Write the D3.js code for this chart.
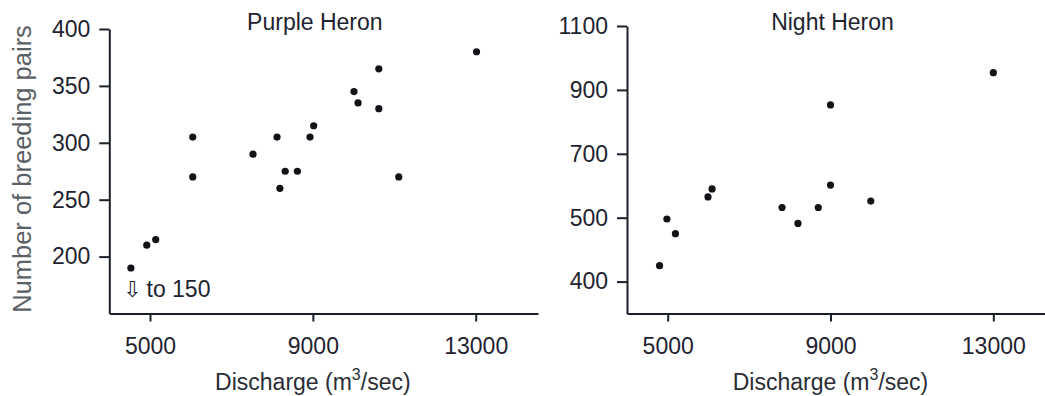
<!DOCTYPE html>
<html>
<head>
<meta charset="utf-8">
<script src="https://cdn.jsdelivr.net/npm/d3@7"></script>
<style>
  body { margin: 0; background: #fff; }
  svg { display: block; font-family: "Liberation Sans", Arial, Helvetica, sans-serif; }
  .axis path, .axis line { stroke: #1b1f2a; stroke-width: 2; }
  .axis text { font-size: 23px; fill: #1f2330; }
  .title { font-size: 23px; fill: #1f2330; }
  .xlabel { font-size: 23px; fill: #2a2d35; }
  .ylabel { font-size: 25.5px; fill: #5b5f66; }
  .dot { fill: #111318; }
</style>
</head>
<body>
<div id="chart"></div>
<script>
// values (discharge in m3/sec, number of breeding pairs)
const purpleDischarge = [4530, 4920, 5140, 6050, 6050, 7530, 8120, 8190, 8320, 8620, 8930, 9020, 10010, 10110, 10620, 10620, 11110, 13020];
const purplePairs = [190, 210, 215, 305, 270, 290, 305, 260, 275, 275, 305, 315, 345, 335, 365, 330, 270, 380];

const nightDischarge = [4800, 4980, 5190, 5990, 6090, 7810, 8200, 8700, 9000, 9000, 9990, 13000];
const nightPairs = [425, 498, 475, 565, 590, 532, 491, 532, 853, 602, 552, 954];

const dischargeTicks = [5000, 9000, 13000];
const purpleTicks = [200, 250, 300, 350, 400];
// the night heron axis is printed with evenly spaced, unevenly valued labels
const nightTicks = [400, 500, 700, 900, 1100];

const width = 1045, height = 396;

const svg = d3.select("#chart").append("svg")
  .attr("width", width)
  .attr("height", height);

function drawPanel(opts) {
  const g = svg.append("g");

  const x = d3.scaleLinear().domain(opts.xDomain).range(opts.xRange);
  const y = opts.y;

  g.append("g")
    .attr("class", "axis")
    .attr("transform", `translate(0,${opts.bottom})`)
    .call(d3.axisBottom(x).tickValues(dischargeTicks).tickSize(8).tickPadding(16).tickSizeOuter(0).tickFormat(d3.format("d")));

  g.append("g")
    .attr("class", "axis")
    .attr("transform", `translate(${opts.xRange[0]},0)`)
    .call(d3.axisLeft(y).tickValues(opts.yTicks).tickSize(10).tickPadding(9).tickSizeOuter(0).tickFormat(d3.format("d")));

  g.selectAll(".axis .tick text").attr("fill", null);
  g.selectAll(".axis path, .axis .tick line").attr("stroke", null);

  g.append("g").selectAll(".dot")
    .data(d3.zip(opts.xs, opts.ys))
    .join("circle")
    .attr("class", "dot")
    .attr("cx", d => x(d[0]))
    .attr("cy", d => y(d[1]))
    .attr("r", 3.6);

  g.append("text")
    .attr("class", "title")
    .attr("x", x(9000) + 2)
    .attr("y", 30)
    .attr("text-anchor", "middle")
    .text(opts.title);

  const xl = g.append("text")
    .attr("class", "xlabel")
    .attr("x", x(9000))
    .attr("y", 390)
    .attr("text-anchor", "middle");
  xl.append("tspan").text("Discharge (m");
  xl.append("tspan").attr("dy", -10).attr("font-size", 16).text("3");
  xl.append("tspan").attr("dy", 10).text("/sec)");

  return { x, y, g };
}

// left panel: purple heron
const yPurple = d3.scaleLinear().domain([150, 400]).range([313.5, 29]);
const left = drawPanel({
  title: "Purple Heron",
  xs: purpleDischarge,
  ys: purplePairs,
  xDomain: [4000, 14530],
  xRange: [109.3, 538],
  y: yPurple,
  yTicks: purpleTicks,
  bottom: 313.5
});

left.g.append("text")
  .attr("class", "title")
  .attr("x", 123)
  .attr("y", 297)
  .style("font-family", "DejaVu Sans, sans-serif")
  .style("font-size", "22px")
  .text("\u21E9");
left.g.append("text")
  .attr("class", "title")
  .attr("x", 146.5)
  .attr("y", 297)
  .text("to 150");

svg.append("text")
  .attr("class", "ylabel")
  .attr("transform", "translate(22,169) rotate(-90)")
  .attr("text-anchor", "middle")
  .attr("dominant-baseline", "central")
  .text("Number of breeding pairs");

// right panel: night heron, labels sit 63.9px apart
const step = 63.9, yTop = 26;
const yNight = d3.scaleLinear()
  .domain([350].concat(nightTicks))
  .range([yTop + 4.5 * step, yTop + 4 * step, yTop + 3 * step, yTop + 2 * step, yTop + step, yTop]);

drawPanel({
  title: "Night Heron",
  xs: nightDischarge,
  ys: nightPairs,
  xDomain: [4000, 14270],
  xRange: [627, 1045],
  y: yNight,
  yTicks: nightTicks,
  bottom: 313.5
});
</script>
</body>
</html>
